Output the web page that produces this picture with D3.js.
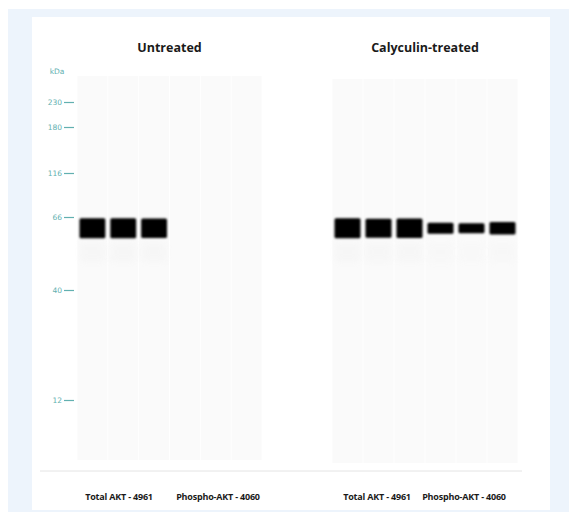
<!DOCTYPE html>
<html><head><meta charset="utf-8">
<script src="https://cdn.jsdelivr.net/npm/d3@7/dist/d3.min.js"></script>
<style>body{margin:0;background:#fff}svg{display:block}</style>
</head><body>
<script>
// ---- data ----
const groups = ["Untreated", "Calyculin-treated"];
const laneLabels = ["Total AKT - 4961", "Phospho-AKT - 4060"];
const markerKDa = [230, 180, 116, 66, 40, 12];
const bandKDa = 62;
const untreatedSignal = [1.0, 1.0, 0.97, 0, 0, 0];
const calyculinSignal = [1.0, 0.95, 0.97, 0.55, 0.5, 0.62];

// ---- layout ----
const W = 569, H = 512;
const svg = d3.select("body").append("svg").attr("width", W).attr("height", H);
const defs = svg.append("defs");
defs.append("filter").attr("id", "blur").attr("x", "-30%").attr("y", "-50%").attr("width", "160%").attr("height", "200%")
  .append("feGaussianBlur").attr("stdDeviation", 1.1);
defs.append("filter").attr("id", "blur2").attr("x", "-30%").attr("y", "-50%").attr("width", "160%").attr("height", "200%")
  .append("feGaussianBlur").attr("stdDeviation", 3);

svg.append("rect").attr("x", 8).attr("y", 9).attr("width", W - 8).attr("height", H - 9).attr("fill", "#edf4fc");
svg.append("rect").attr("x", 32).attr("y", 17).attr("width", 518).attr("height", 493).attr("fill", "#ffffff");

// piecewise molecular-weight scale (Simple Western style)
const y = d3.scaleLinear().domain(markerKDa).range([102, 127, 173, 217, 290, 400]);

const groupX = [
  d3.scaleBand().domain(d3.range(6)).range([77, 262]).paddingInner(0),
  d3.scaleBand().domain(d3.range(6)).range([332, 518]).paddingInner(0)
];
const groupTop = [76, 79];
const groupBottom = [460, 463];
const signals = [untreatedSignal, calyculinSignal];
const bandH = d3.scaleLinear().domain([0, 1]).range([0, 20]);

groups.forEach((g, gi) => {
  const x = groupX[gi];
  const gg = svg.append("g");
  // lanes
  gg.selectAll("rect.lane").data(d3.range(6)).join("rect")
    .attr("x", d => x(d) + 0.5).attr("y", groupTop[gi])
    .attr("width", x.bandwidth() - 1).attr("height", groupBottom[gi] - groupTop[gi])
    .attr("fill", "#fafafa");
  // faint smear below bands
  gg.selectAll("rect.smear").data(signals[gi]).join("rect")
    .attr("x", (d, i) => x(i) + 3).attr("y", y(bandKDa) + 14)
    .attr("width", x.bandwidth() - 6).attr("height", 20)
    .attr("fill", "#eeeeee").attr("opacity", d => d * 0.3)
    .attr("filter", "url(#blur2)");
  // bands
  gg.selectAll("rect.band").data(signals[gi]).join("rect")
    .attr("x", (d, i) => x(i) + 2.5)
    .attr("y", d => y(bandKDa) - bandH(d) / 2)
    .attr("width", x.bandwidth() - 5)
    .attr("height", d => bandH(d))
    .attr("rx", 1.5)
    .attr("fill", "#000")
    .attr("filter", "url(#blur)");
  // title
  svg.append("text").attr("x", (x.range()[0] + x.range()[1]) / 2).attr("y", 52)
    .attr("text-anchor", "middle").attr("font-family", "Open Sans").attr("font-weight", "bold")
    .attr("font-size", 12.5).attr("fill", "#1a1a1a").text(g);
  // bottom labels
  const lx = gi === 0 ? [119, 218] : [377, 464];
  laneLabels.forEach((t, i) => {
    svg.append("text").attr("x", lx[i]).attr("y", 500)
      .attr("text-anchor", "middle").attr("font-family", "Open Sans").attr("font-weight", "bold")
      .attr("font-size", 9).attr("letter-spacing", -0.2).attr("fill", "#1a1a1a").text(t);
  });
});

// marker axis
const axisG = svg.append("g").attr("transform", "translate(74,0)");
axisG.call(d3.axisLeft(y).tickValues(markerKDa).tickSize(10).tickPadding(2).tickFormat(d3.format("d")));
axisG.select(".domain").remove();
axisG.selectAll("line").attr("stroke", "#62b0b0").attr("stroke-width", 1.2);
axisG.selectAll("text").attr("fill", "#62b0b0").attr("font-family", "DejaVu Sans").attr("font-size", 7.5);
svg.append("text").attr("x", 57).attr("y", 74).attr("text-anchor", "middle")
  .attr("font-family", "DejaVu Sans").attr("font-size", 7.5).attr("fill", "#62b0b0").text("kDa");

// separator line
svg.append("line").attr("x1", 40).attr("x2", 522).attr("y1", 471).attr("y2", 471)
  .attr("stroke", "#e4e4e4").attr("stroke-width", 1);
</script>
</body></html>
